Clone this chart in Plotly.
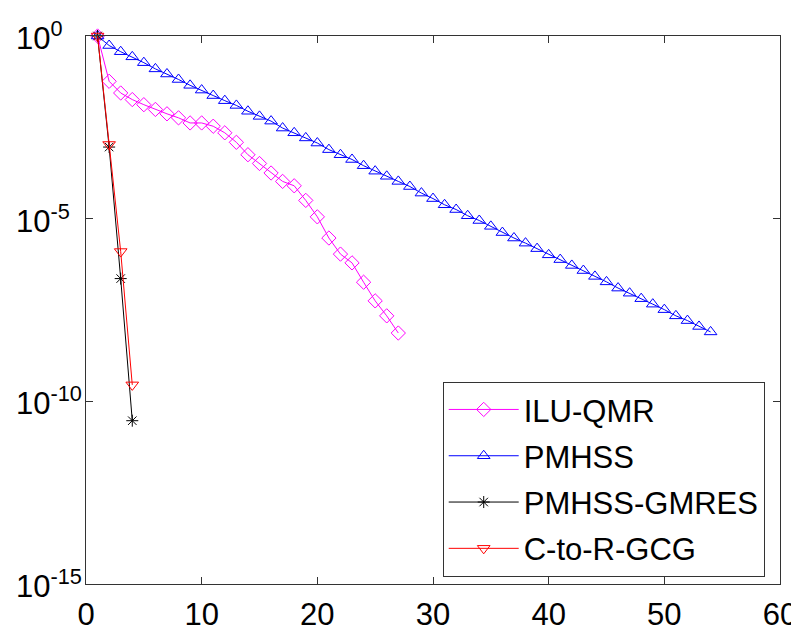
import plotly.graph_objects as go

# log10 of residuals
ilu_x = list(range(1, 28))
ilu_exp = [0.0, -1.24, -1.56, -1.74, -1.88, -2.01, -2.13, -2.24, -2.38, -2.38,
           -2.47, -2.65, -2.91, -3.25, -3.49, -3.75, -3.98, -4.10, -4.50, -4.95,
           -5.53, -5.97, -6.21, -6.74, -7.25, -7.66, -8.13]

pmhss_x = list(range(1, 55))
pmhss_exp = [0.0, -0.26, -0.43, -0.57, -0.73, -0.90, -1.04, -1.19, -1.35, -1.48,
             -1.63, -1.77, -1.90, -2.06, -2.20, -2.33, -2.52, -2.65, -2.79, -2.93,
             -3.11, -3.25, -3.38, -3.55, -3.70, -3.84, -3.98, -4.12, -4.30, -4.45,
             -4.62, -4.75, -4.92, -5.05, -5.21, -5.38, -5.53, -5.67, -5.82, -5.99,
             -6.12, -6.28, -6.42, -6.58, -6.73, -6.90, -7.04, -7.19, -7.34, -7.49,
             -7.66, -7.79, -7.95, -8.10]

gmres_x = [1, 2, 3, 4]
gmres_exp = [0.0, -3.04, -6.64, -10.53]

gcg_x = [1, 2, 3, 4]
gcg_exp = [0.0, -2.97, -5.90, -9.55]

ytick_exp = [0, -5, -10, -15]
xtick_vals = [0, 10, 20, 30, 40, 50, 60]

FONT = "Liberation Sans, Arial, Helvetica, sans-serif"

# page body has an 8px default margin; size the figure so the plot lands
# where the reference has it in the 799x631 window
W, H = 791, 623
L, T, R, B = 78, 28, 19, 47
PW = W - L - R

fig = go.Figure()

def add(name, xs, es, color, symbol, size):
    fig.add_trace(go.Scatter(
        x=xs, y=[10 ** e for e in es], name=name, mode="lines+markers",
        line=dict(color=color, width=1),
        marker=dict(symbol=symbol, size=size, color=color,
                    line=dict(color=color, width=1)),
        legendgroup=name, cliponaxis=False,
    ))

add("ILU-QMR", ilu_x, ilu_exp, "#ff00ff", "diamond-open", 11)
add("PMHSS", pmhss_x, pmhss_exp, "#0000ff", "triangle-up-open", 11)
add("PMHSS-GMRES", gmres_x, gmres_exp, "#000000", "asterisk-open", 10)
add("C-to-R-GCG", gcg_x, gcg_exp, "#ff0000", "triangle-down-open", 11)

# y tick labels drawn left-aligned like the reference (MATLAB style)
for e in ytick_exp:
    fig.add_annotation(
        x=-72.0 / PW, xref="paper", xanchor="left",
        y=e, yref="y", yanchor="middle",
        text="10<sup>%d</sup>" % e, showarrow=False,
        font=dict(family=FONT, size=31, color="black"),
    )

fig.update_layout(
    width=W, height=H,
    margin=dict(l=L, r=R, t=T, b=B, pad=0, autoexpand=False),
    paper_bgcolor="white", plot_bgcolor="white",
    font=dict(family=FONT, size=31, color="black"),
    showlegend=True,
    legend=dict(
        x=0.514, y=0.369, xanchor="left", yanchor="top",
        bgcolor="white", bordercolor="#333333", borderwidth=1,
        font=dict(family=FONT, size=31, color="black"),
        tracegroupgap=3, itemwidth=70,
    ),
)

fig.update_xaxes(
    range=[0, 60], tickvals=xtick_vals, automargin=False,
    ticks="inside", ticklen=7, tickcolor="#333333",
    showline=True, linecolor="#333333", linewidth=1, mirror="ticks",
    showgrid=False, zeroline=False,
    tickfont=dict(family=FONT, size=31, color="black"),
    ticklabelstandoff=3,
)
fig.update_yaxes(
    type="log", range=[-15, 0], automargin=False,
    tickvals=[10 ** e for e in ytick_exp],
    showticklabels=False,
    ticks="inside", ticklen=7, tickcolor="#333333",
    showline=True, linecolor="#333333", linewidth=1, mirror="ticks",
    showgrid=False, zeroline=False,
)

fig.write_html("out.html")
